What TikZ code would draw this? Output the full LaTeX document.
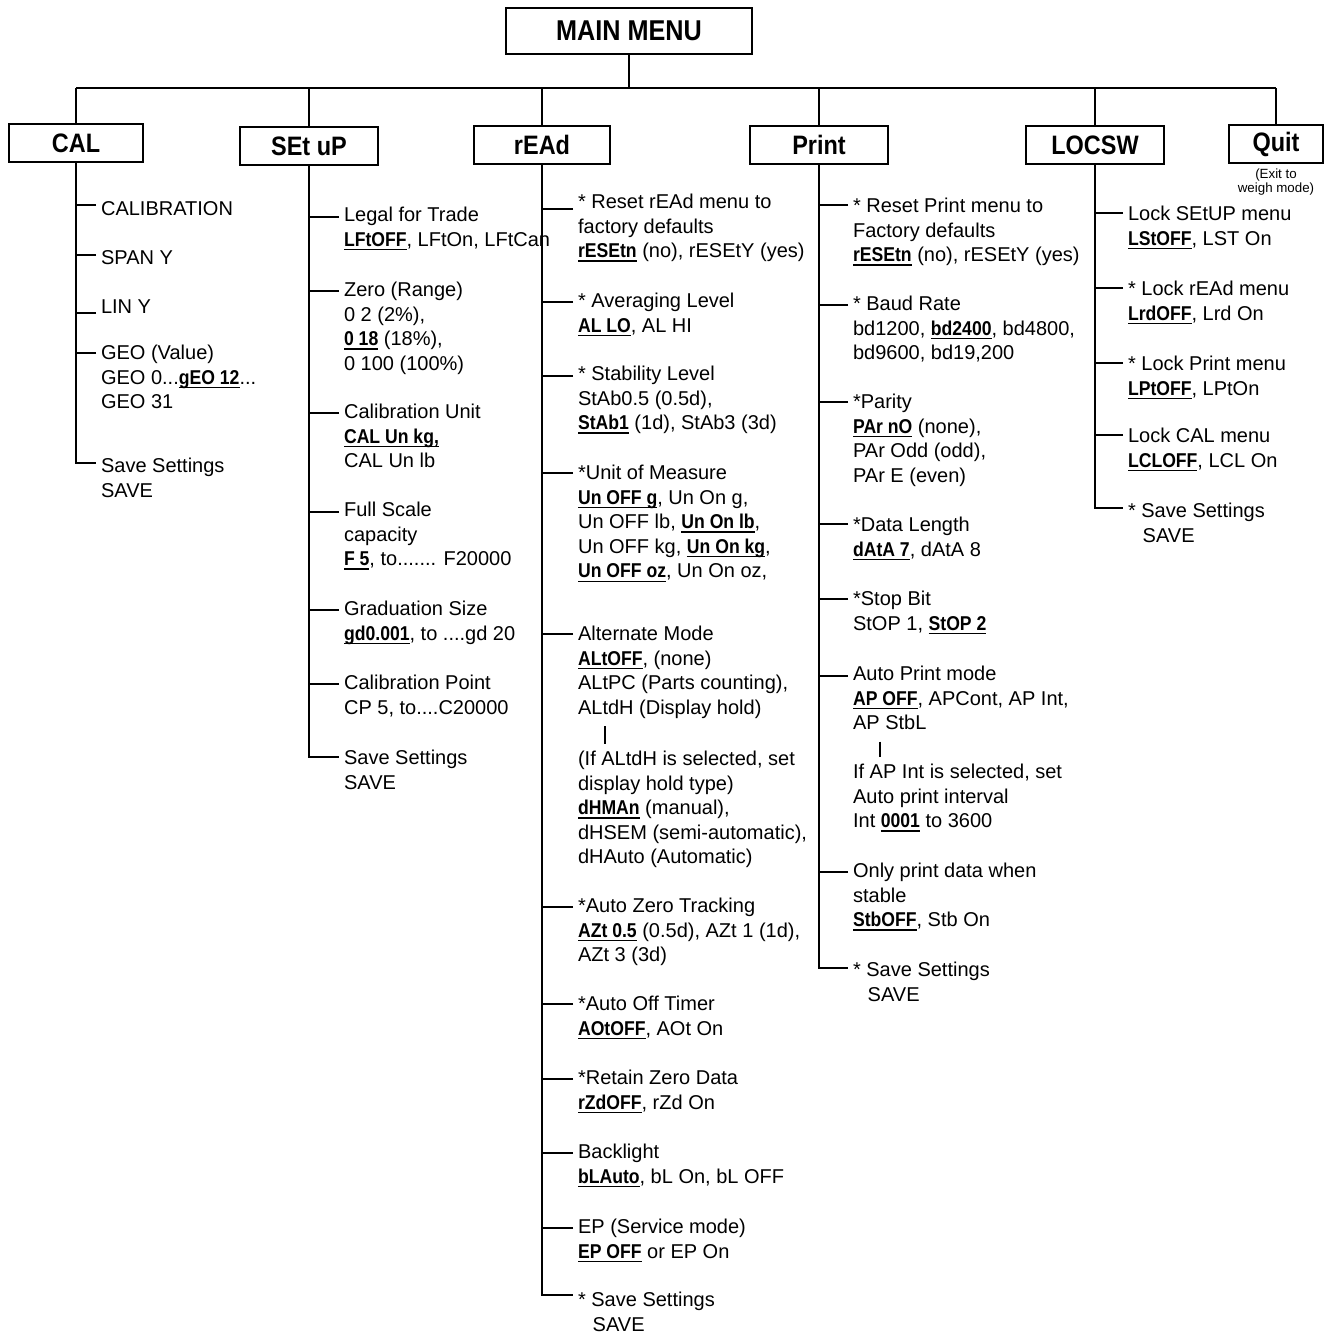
\documentclass[tikz,border=0pt]{standalone}
\usepackage{fontspec}
\setmainfont{Liberation Sans}
\newfontfamily\headfont{Liberation Sans}[FakeStretch=0.88]
\usetikzlibrary{positioning,calc}

% bold default value, underlined
\newsavebox\dfltbox
\newcommand\dflt[1]{\sbox\dfltbox{\headfont\bfseries #1}\rlap{\rule[-3.2pt]{\wd\dfltbox}{1.1pt}}\usebox\dfltbox}

\tikzset{every picture/.style={line width=1.6pt}}
\tikzset{
  menubox/.style={draw, inner sep=0pt, minimum height=29pt, font=\headfont\bfseries\fontsize{20}{22}\selectfont},
  item/.style={anchor=north west, inner xsep=3pt, inner ysep=0.75pt, align=left, font=\fontsize{15}{18.4}\selectfont, execute at begin node=\strut},
  note/.style={inner sep=0pt, align=center, font=\fontsize{10}{9.2}\selectfont},
  bar/.style={line width=2.2pt, shorten <=2pt, shorten >=4pt}
}

\begin{document}
\begin{tikzpicture}[x=0.75pt,y=0.75pt,yscale=-1,xscale=1]
\useasboundingbox (0,0) rectangle (1328,1336);

% Menu Boxes
\node[menubox, minimum width=184pt, minimum height=34pt, font=\headfont\bfseries\fontsize{21.5}{24}\selectfont] (main) at (629,31) {MAIN MENU};
\node[menubox, minimum width=101pt] (cal) at (76,143) {CAL};
\node[menubox, minimum width=103pt] (setup) at (309,146) {SEt uP};
\node[menubox, minimum width=102pt] (read) at (542,145) {rEAd};
\node[menubox, minimum width=103.5pt] (print) at (819,145) {Print};
\node[menubox, minimum width=103pt] (locsw) at (1095,145) {LOCSW};
\node[menubox, minimum width=70pt, minimum height=28.5pt] (quit) at (1276,144) {Quit};
% Text Node
\node[note, below=3pt of quit] (quitnote) {(Exit to\\weigh mode)};

%Straight Lines
\coordinate (bus) at (629,88);
\draw (main.south) -- (bus);
\draw (bus -| cal.north) -- (bus -| quit.north);
\foreach \b in {cal,setup,read,print,locsw,quit}
  \draw (bus -| \b.north) -- (\b.north);

% Text Node -- CAL
\node[item] (calA) at (96,196) {CALIBRATION};
\node[item] (calB) at (96,245) {SPAN Y};
\node[item] (calC) at (96,294) {LIN Y};
\node[item] (calD) at (96,343) {GEO (Value)\\GEO 0...\dflt{gEO 12}...\\GEO 31};
\node[item] (calE) at (96,456) {Save Settings\\SAVE};

% Text Node -- SEt uP
\node[item] (setA) at (339,205) {Legal for Trade\\\dflt{LFtOFF}, LFtOn, LFtCan};
\node[item] (setB) at (339,280) {Zero (Range)\\0 2 (2\%),\\\dflt{0 18} (18\%),\\0 100 (100\%)};
\node[item] (setC) at (339,402) {Calibration Unit\\\dflt{CAL Un kg,}\\CAL Un lb};
\node[item] (setD) at (339,500) {Full Scale\\capacity\\\dflt{F 5}, to....... F20000};
\node[item] (setE) at (339,599) {Graduation Size\\\dflt{gd0.001}, to ....gd 20};
\node[item] (setF) at (339,673) {Calibration Point\\CP 5, to....C20000};
\node[item] (setG) at (339,748) {Save Settings\\SAVE};

% Text Node -- rEAd
\node[item] (readA) at (573,192) {* Reset rEAd menu to\\factory defaults\\\dflt{rESEtn} (no), rESEtY (yes)};
\node[item] (readB) at (573,291) {* Averaging Level\\\dflt{AL LO}, AL HI};
\node[item] (readC) at (573,364) {* Stability Level\\StAb0.5 (0.5d),\\\dflt{StAb1} (1d), StAb3 (3d)};
\node[item] (readD) at (573,463) {*Unit of Measure\\\dflt{Un OFF g}, Un On g,\\Un OFF lb, \dflt{Un On lb},\\Un OFF kg, \dflt{Un On kg},\\\dflt{Un OFF oz}, Un On oz,};
\node[item] (readE) at (573,624) {Alternate Mode\\\dflt{ALtOFF}, (none)\\ALtPC (Parts counting),\\ALtdH (Display hold)};
\node[item] (readF) at (573,749) {(If ALtdH is selected, set\\display hold type)\\\dflt{dHMAn} (manual),\\dHSEM (semi-automatic),\\dHAuto (Automatic)};
\node[item] (readG) at (573,896) {*Auto Zero Tracking\\\dflt{AZt 0.5} (0.5d), AZt 1 (1d),\\AZt 3 (3d)};
\node[item] (readH) at (573,994) {*Auto Off Timer\\\dflt{AOtOFF}, AOt On};
\node[item] (readI) at (573,1068) {*Retain Zero Data\\\dflt{rZdOFF}, rZd On};
\node[item] (readJ) at (573,1142) {Backlight\\\dflt{bLAuto}, bL On, bL OFF};
\node[item] (readK) at (573,1217) {EP (Service mode)\\\dflt{EP OFF} or EP On};
\node[item] (readL) at (573,1290) {* Save Settings\\\hspace*{11pt}SAVE};

% Text Node -- Print
\node[item] (prA) at (848,196) {* Reset Print menu to\\Factory defaults\\\dflt{rESEtn} (no), rESEtY (yes)};
\node[item] (prB) at (848,294) {* Baud Rate\\bd1200, \dflt{bd2400}, bd4800,\\bd9600, bd19,200};
\node[item] (prC) at (848,392) {*Parity\\\dflt{PAr nO} (none),\\PAr Odd (odd),\\PAr E (even)};
\node[item] (prD) at (848,515) {*Data Length\\\dflt{dAtA 7}, dAtA 8};
\node[item] (prE) at (848,589) {*Stop Bit\\StOP 1, \dflt{StOP 2}};
\node[item] (prF) at (848,664) {Auto Print mode\\\dflt{AP OFF}, APCont, AP Int,\\AP StbL};
\node[item] (prG) at (848,762) {If AP Int is selected, set\\Auto print interval\\Int \dflt{0001} to 3600};
\node[item] (prH) at (848,861) {Only print data when\\stable\\\dflt{StbOFF}, Stb On};
\node[item] (prI) at (848,960) {* Save Settings\\\hspace*{11pt}SAVE};

% Text Node -- LOCSW
\node[item] (lkA) at (1123,204) {Lock SEtUP menu\\\dflt{LStOFF}, LST On};
\node[item] (lkB) at (1123,279) {* Lock rEAd menu\\\dflt{LrdOFF}, Lrd On};
\node[item] (lkC) at (1123,354) {* Lock Print menu\\\dflt{LPtOFF}, LPtOn};
\node[item] (lkD) at (1123,426) {Lock CAL menu\\\dflt{LCLOFF}, LCL On};
\node[item] (lkE) at (1123,501) {* Save Settings\\\hspace*{11pt}SAVE};

%Straight Lines -- trunks and ticks
\draw (cal.south) |- ($(calE.north west)+(0,7)$);
\foreach \nm/\off in {calA/9,calB/10,calC/19,calD/10}
  \draw ($(\nm.north west)+(0,\off)$) coordinate (t) -- (cal.south |- t);
\draw (setup.south) |- ($(setG.north west)+(0,9)$);
\foreach \nm/\off in {setA/12,setB/11,setC/11,setD/12,setE/11,setF/11}
  \draw ($(\nm.north west)+(0,\off)$) coordinate (t) -- (setup.south |- t);
\draw (read.south) |- ($(readL.north west)+(0,5)$);
\foreach \nm/\off in {readA/17,readB/11,readC/12,readD/10,readE/10,readG/11,readH/10,readI/11,readJ/11,readK/11}
  \draw ($(\nm.north west)+(0,\off)$) coordinate (t) -- (read.south |- t);
\draw (print.south) |- ($(prI.north west)+(0,8)$);
\foreach \nm/\off in {prA/9,prB/11,prC/10,prD/9,prE/10,prF/12,prH/11}
  \draw ($(\nm.north west)+(0,\off)$) coordinate (t) -- (print.south |- t);
\draw (locsw.south) |- ($(lkE.north west)+(0,7)$);
\foreach \nm/\off in {lkA/9,lkB/9,lkC/9,lkD/9}
  \draw ($(\nm.north west)+(0,\off)$) coordinate (t) -- (locsw.south |- t);

%Straight Lines -- sub-option bars
\draw[bar] ([xshift=24pt]readE.south west) -- ([xshift=24pt]readF.north west);
\draw[bar] ([xshift=24pt]prF.south west) -- ([xshift=24pt]prG.north west);
\end{tikzpicture}
\end{document}
